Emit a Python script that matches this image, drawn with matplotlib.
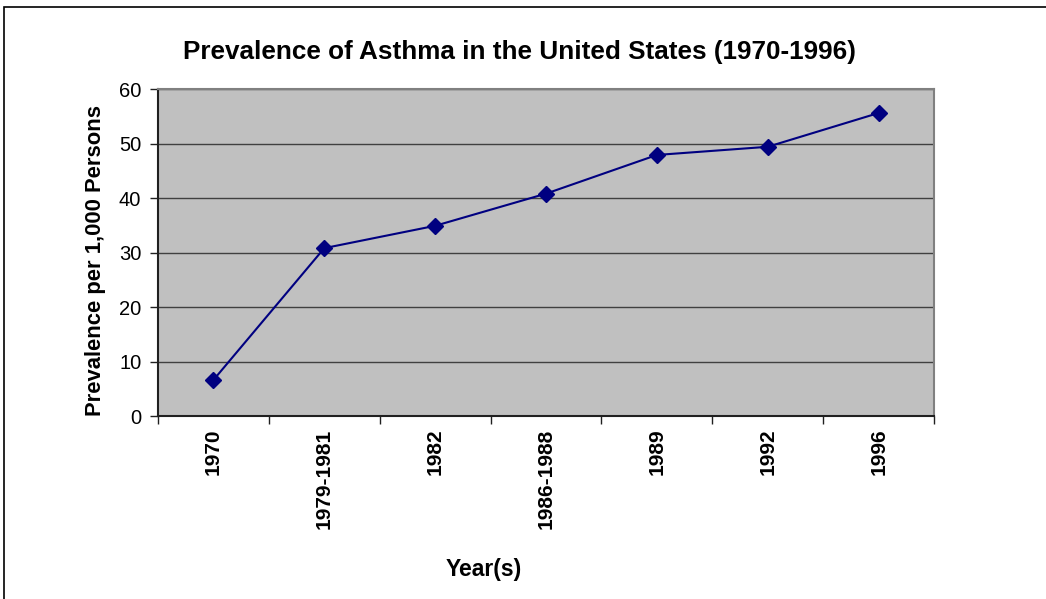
import matplotlib.pyplot as plt
from matplotlib.patches import Rectangle

plt.rcParams['font.family'] = ['Liberation Sans', 'DejaVu Sans']

# data
years = ["1970", "1979-1981", "1982", "1986-1988", "1989", "1992", "1996"]
prevalence = [6.6, 30.8, 34.9, 40.8, 47.9, 49.4, 55.6]

fig = plt.figure(figsize=(10.46, 5.99), dpi=100)
ax = fig.add_axes([0.151, 0.3055, 0.742, 0.5459])

# outer chart frame
fig.patches.append(Rectangle((4 / 1046, -0.1), 1.2, 1.1 - 7 / 599, transform=fig.transFigure,
                             fill=False, edgecolor='black', linewidth=1.2))

ax.set_facecolor('#c0c0c0')
x = list(range(len(years)))
ax.plot(x, prevalence, color='#000080', linewidth=1.5, marker='D', markersize=8,
        markerfacecolor='#000080', markeredgecolor='#000080', zorder=3)

ax.set_xlim(-0.5, len(years) - 0.5)
ax.set_ylim(0, 60)
ax.set_yticks(range(0, 61, 10))
ax.yaxis.grid(True, color='#404040', linewidth=1)
ax.set_axisbelow(True)

ax.set_xticks(x)
ax.set_xticklabels(years, rotation=90, fontweight='bold', fontsize=15)
ax.set_xticks([i - 0.5 for i in range(len(years) + 1)], minor=True)
ax.tick_params(axis='x', which='major', length=0, pad=9)
ax.tick_params(axis='x', which='minor', length=6, width=1, color='#202020', direction='out')
ax.tick_params(axis='y', length=6, width=1, color='#202020', labelsize=14.5, pad=6)

for side in ['top', 'right']:
    ax.spines[side].set_color('#808080')
    ax.spines[side].set_linewidth(1.5)
for side in ['left', 'bottom']:
    ax.spines[side].set_color('#202020')
    ax.spines[side].set_linewidth(1.5)

ax.set_ylabel("Prevalence per 1,000 Persons", fontweight='bold', fontsize=15.8, labelpad=9)
ax.yaxis.label.set_y(0.477)
fig.text(484 / 1046, 1 - 576 / 599, "Year(s)", fontweight='bold', fontsize=16.5,
         ha='center', va='baseline')
fig.text(519 / 1046, 1 - 58.5 / 599, "Prevalence of Asthma in the United States (1970-1996)",
         fontweight='bold', fontsize=18.8, ha='center', va='baseline')

fig.savefig('out.png', dpi=100)
